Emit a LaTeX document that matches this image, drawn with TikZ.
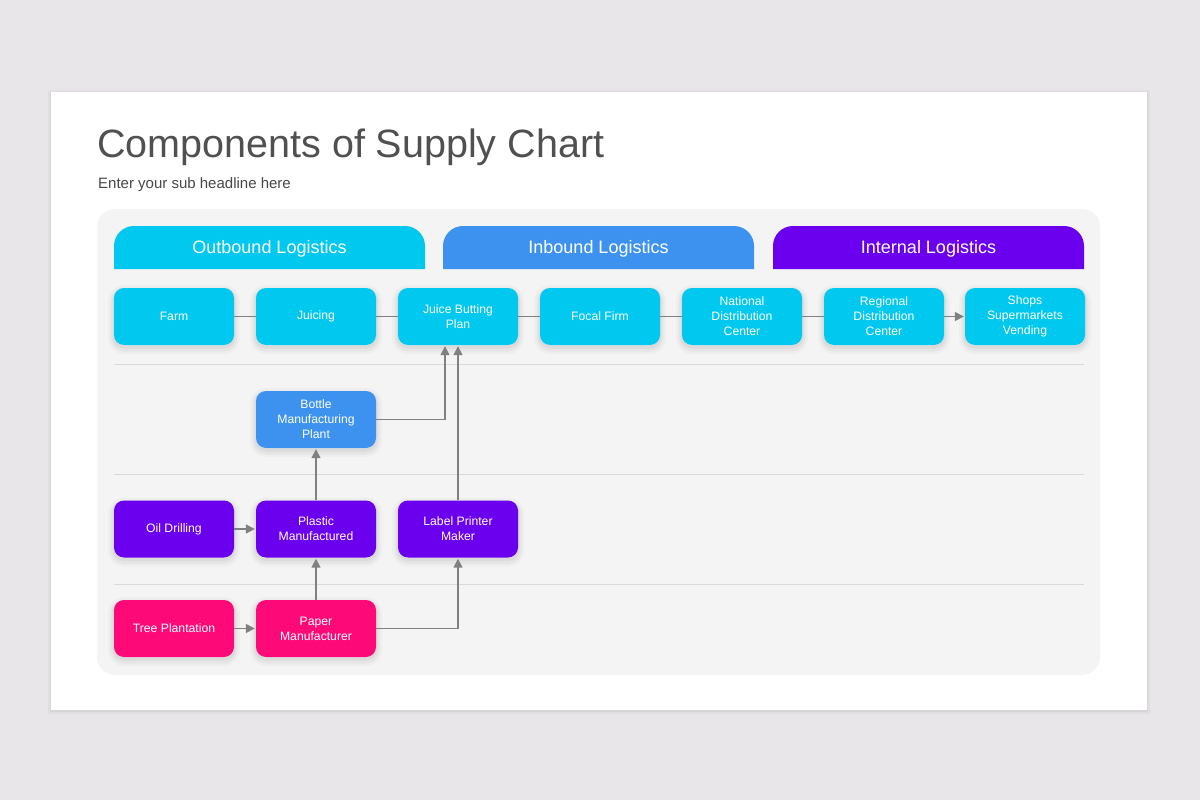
\documentclass[tikz,border=0pt]{standalone}
\usepackage{fontspec}
\setmainfont{Liberation Sans}
\usetikzlibrary{arrows.meta}
\definecolor{outerbg}{HTML}{E8E6E8}
\definecolor{panel}{HTML}{F4F4F5}
\definecolor{cyanC}{HTML}{00C8EF}
\definecolor{blueC}{HTML}{3D92F0}
\definecolor{purpC}{HTML}{6B00EE}
\definecolor{pinkC}{HTML}{FE0A78}
\definecolor{lineC}{HTML}{808080}
\definecolor{sepC}{HTML}{D9D9D9}
\definecolor{titleC}{HTML}{505050}
\tikzset{
  box/.style={rounded corners=10pt, minimum width=120pt, minimum height=57pt,
    text=white, align=center, inner sep=2pt,
    font=\fontsize{12.2}{15}\selectfont,
    preaction={draw=black, draw opacity=0.025, line width=12pt, transform canvas={yshift=-3pt}},
    preaction={draw=black, draw opacity=0.035, line width=7pt, transform canvas={yshift=-3pt}},
    preaction={draw=black, draw opacity=0.045, line width=3pt, transform canvas={yshift=-2pt}}},
  cbox/.style={box, fill=cyanC},
  bbox/.style={box, fill=blueC},
  pbox/.style={box, fill=purpC},
  kbox/.style={box, fill=pinkC},
  conn/.style={draw=lineC, line width=1.6pt},
  arr/.style={conn, -{Triangle[length=9pt,width=9pt]}, shorten >=1pt},
  tabtext/.style={text=white, font=\fontsize{18}{20}\selectfont},
  sep/.style={draw=sepC, line width=0.8pt}
}
\begin{document}
\begin{tikzpicture}[x=1pt,y=-1pt]
\useasboundingbox (0,0) rectangle (1200,800);
\fill[outerbg] (0,0) rectangle (1200,800);
\draw[black, draw opacity=0.03, line width=6pt] (51,93) rectangle (1147,711);
\draw[black, draw opacity=0.04, line width=2.5pt] (51,93) rectangle (1147,711);
\fill[white] (51,92) rectangle (1147,710);
\fill[panel, rounded corners=18pt] (97,209) rectangle (1100,675);

\node[anchor=base west, text=titleC, font=\fontsize{39.5}{46}\selectfont, inner sep=0pt] (title) at (97,157) {Components of Supply Chart};
\node[anchor=base west, text=titleC!90!black, font=\fontsize{15}{17}\selectfont, inner sep=0pt] (sub) at (98,188) {Enter your sub headline here};

% tabs
\fill[cyanC] (114,269) [rounded corners=20pt]-- (114,226) -- (425,226) [sharp corners]-- (425,269) -- cycle;
\fill[blueC] (443,269) [rounded corners=20pt]-- (443,226) -- (754,226) [sharp corners]-- (754,269) -- cycle;
\fill[purpC] (773,269) [rounded corners=20pt]-- (773,226) -- (1084,226) [sharp corners]-- (1084,269) -- cycle;
\node[tabtext] (tabout) at (269.5,248.5) {Outbound Logistics};
\node[tabtext] (tabin) at (598.5,248.5) {Inbound Logistics};
\node[tabtext] (tabint) at (928.5,248.5) {Internal Logistics};

% separators
\draw[sep] (114,364) -- (1084,364);
\draw[sep] (114,474) -- (1084,474);
\draw[sep] (114,584) -- (1084,584);

% top row
\node[cbox] (farm) at (174,316.5) {Farm};
\node[cbox] (juicing) at (316,316.5) {Juicing};
\node[cbox] (jbp) at (458,316.5) {Juice Butting\\Plan};
\node[cbox] (focal) at (600,316.5) {Focal Firm};
\node[cbox] (national) at (742,316.5) {National\\Distribution\\Center};
\node[cbox] (regional) at (884,316.5) {Regional\\Distribution\\Center};
\node[cbox] (shops) at (1025,316.5) {Shops\\Supermarkets\\Vending};

% lower rows
\node[bbox] (bottle) at (316,419.5) {Bottle\\Manufacturing\\Plant};
\node[pbox] (oil) at (174,529) {Oil Drilling};
\node[pbox] (plastic) at (316,529) {Plastic\\Manufactured};
\node[pbox] (label) at (458,529) {Label Printer\\Maker};
\node[kbox] (tree) at (174,628.5) {Tree Plantation};
\node[kbox] (paper) at (316,628.5) {Paper\\Manufacturer};

% connectors
\draw[conn] (farm) -- (juicing);
\draw[conn] (juicing) -- (jbp);
\draw[conn] (jbp) -- (focal);
\draw[conn] (focal) -- (national);
\draw[conn] (national) -- (regional);
\draw[arr] (regional) -- (shops);
\draw[arr] (bottle.east) -| ([xshift=-13pt]jbp.south);
\draw[arr] (label.north) -- (jbp.south);
\draw[arr] (plastic) -- (bottle);
\draw[arr] (oil) -- (plastic);
\draw[arr] (tree) -- (paper);
\draw[arr] (paper) -- (plastic);
\draw[arr] (paper.east) -| (label.south);
\end{tikzpicture}
\end{document}
